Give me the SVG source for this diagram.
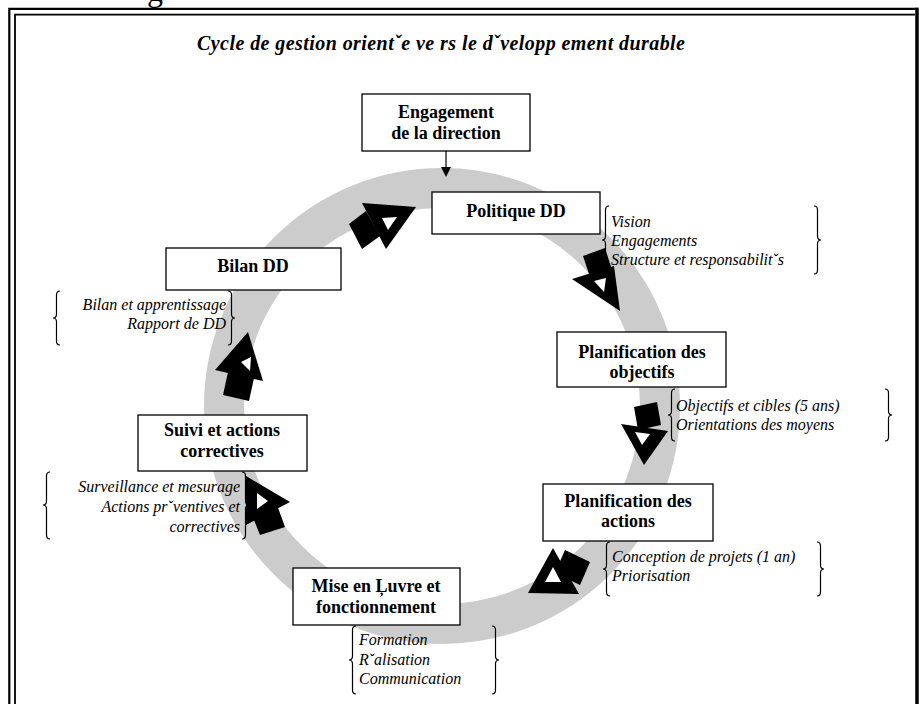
<svg xmlns="http://www.w3.org/2000/svg" width="919" height="704" viewBox="0 0 919 704">
<style>
text{font-family:"Liberation Serif","Times New Roman","DejaVu Serif",serif}
.box{fill:#fff;stroke:#000;stroke-width:1.3}
.nt{font-weight:bold;font-size:18px;text-anchor:middle;fill:#000}
.it{font-style:italic;font-size:16px;fill:#000}
.r{text-anchor:end}
.br{fill:none;stroke:#000;stroke-width:1.2}
.blk{fill:#000}
.wh{fill:#fff}
</style>
<rect width="919" height="704" fill="#fff"/>
<text x="147" y="1" font-size="32" fill="#000">g</text>
<g id="frame" fill="none" stroke="#000">
<polyline points="9.3,704 9.3,8.8 918,8.8" stroke-width="2.2"/>
<polyline points="15,704 15,14.6 915,14.6" stroke-width="1.8"/>
<line x1="917" y1="7.7" x2="917" y2="704" stroke-width="3.5"/>
</g>
<text id="title" x="197" y="50" font-weight="bold" font-style="italic" font-size="20" textLength="488" fill="#000">Cycle de gestion orientˇe ve rs le dˇvelopp ement durable</text>
<circle id="ring" cx="442" cy="406" r="218" fill="none" stroke="#cccccc" stroke-width="40"/>
<g id="connectors">
<line x1="446" y1="151" x2="446" y2="168" stroke="#000" stroke-width="1.2"/>
<polygon points="441,167 451,167 446,177" fill="#000"/>
<g id="a1"><polygon class="blk" points="349,224 366,211 380,236 362,249"/><polygon class="blk" points="362,203 416,207 386,249"/><polygon class="wh" points="382,218 397,217 388,230"/></g>
<g id="a2"><polygon class="blk" points="583,256 605,248 612,270 590,277"/><polygon class="blk" points="572,279 614,266 620,311"/><polygon class="wh" points="594,281 606,278 604,292"/></g>
<g id="a3"><polygon class="blk" points="634,407 657,402 661,425 638,430"/><polygon class="blk" points="621,424 668,431 644,465"/><polygon class="wh" points="635,432 650,434 642,445"/></g>
<g id="a4"><polygon class="blk" points="565,550 590,562 580,585 555,573"/><polygon class="blk" points="553,548 528,593 579,594"/><polygon class="wh" points="553,567 545,582 561,582"/></g>
<g id="a5"><polygon class="blk" points="252,515 277,505 285,527 260,535"/><polygon class="blk" points="246,476 246,525 290,502"/><polygon class="wh" points="257,493 257,509 268,501"/></g>
<g id="a6"><polygon class="blk" points="228,372 254,378 249,401 223,395"/><polygon class="blk" points="248,332 215,370 263,381"/><polygon class="wh" points="241,362 251,357 250,371"/></g>
</g>
<g id="n-engagement">
<rect class="box" x="362" y="94" width="168" height="57"/>
<text class="nt" x="446" y="118">Engagement</text>
<text class="nt" x="446" y="139">de la direction</text>
</g>
<g id="n-politique">
<rect class="box" x="432" y="192" width="168" height="42"/>
<text class="nt" x="516" y="217">Politique DD</text>
<path class="br" d="M609,206 Q605.5,206 605.5,210 L605.5,236 Q605.5,240 602,240 Q605.5,240 605.5,244 L605.5,270 Q605.5,274 609,274"/>
<path class="br" d="M814,206 Q817.5,206 817.5,210 L817.5,236 Q817.5,240 821,240 Q817.5,240 817.5,244 L817.5,270 Q817.5,274 814,274"/>
<text class="it" x="611" y="227">Vision</text>
<text class="it" x="611" y="246">Engagements</text>
<text class="it" x="611" y="265">Structure et responsabilitˇs</text>
</g>
<g id="n-objectifs">
<rect class="box" x="557" y="332" width="169" height="55"/>
<text class="nt" x="642" y="358">Planification des</text>
<text class="nt" x="642" y="378">objectifs</text>
<path class="br" d="M675,389 Q671.5,389 671.5,393 L671.5,411 Q671.5,415 668,415 Q671.5,415 671.5,419 L671.5,437 Q671.5,441 675,441"/>
<path class="br" d="M885,389 Q888.5,389 888.5,393 L888.5,411 Q888.5,415 892,415 Q888.5,415 888.5,419 L888.5,437 Q888.5,441 885,441"/>
<text class="it" x="676" y="411">Objectifs et cibles (5 ans)</text>
<text class="it" x="676" y="430">Orientations des moyens</text>
</g>
<g id="n-actions">
<rect class="box" x="543" y="484" width="170" height="57"/>
<text class="nt" x="628" y="507">Planification des</text>
<text class="nt" x="628" y="527">actions</text>
<path class="br" d="M610,542 Q606.5,542 606.5,546 L606.5,565 Q606.5,569 603,569 Q606.5,569 606.5,573 L606.5,592 Q606.5,596 610,596"/>
<path class="br" d="M817,542 Q820.5,542 820.5,546 L820.5,565 Q820.5,569 824,569 Q820.5,569 820.5,573 L820.5,592 Q820.5,596 817,596"/>
<text class="it" x="612" y="562">Conception de projets (1 an)</text>
<text class="it" x="612" y="581">Priorisation</text>
</g>
<g id="n-mise">
<rect class="box" x="293" y="568" width="167" height="57"/>
<text class="nt" x="376" y="592">Mise en Ļuvre et</text>
<text class="nt" x="376" y="613">fonctionnement</text>
<path class="br" d="M356,626 Q352.5,626 352.5,630 L352.5,656 Q352.5,660 349,660 Q352.5,660 352.5,664 L352.5,690 Q352.5,694 356,694"/>
<path class="br" d="M492,626 Q495.5,626 495.5,630 L495.5,656 Q495.5,660 499,660 Q495.5,660 495.5,664 L495.5,690 Q495.5,694 492,694"/>
<text class="it" x="359" y="645">Formation</text>
<text class="it" x="359" y="665">Rˇalisation</text>
<text class="it" x="359" y="684">Communication</text>
</g>
<g id="n-suivi">
<rect class="box" x="138" y="415" width="169" height="56"/>
<text class="nt" x="222" y="436">Suivi et actions</text>
<text class="nt" x="222" y="457">correctives</text>
<path class="br" d="M50,472 Q46.5,472 46.5,476 L46.5,501 Q46.5,505 43,505 Q46.5,505 46.5,509 L46.5,535 Q46.5,539 50,539"/>
<path class="br" d="M242,472 Q245.5,472 245.5,476 L245.5,501 Q245.5,505 249,505 Q245.5,505 245.5,509 L245.5,535 Q245.5,539 242,539"/>
<text class="it r" x="240" y="492">Surveillance et mesurage</text>
<text class="it r" x="240" y="512">Actions prˇventives et</text>
<text class="it r" x="240" y="532">correctives</text>
</g>
<g id="n-bilan">
<rect class="box" x="166" y="248" width="175" height="42"/>
<text class="nt" x="253" y="272">Bilan DD</text>
<path class="br" d="M60,291 Q56.5,291 56.5,295 L56.5,314 Q56.5,318 53,318 Q56.5,318 56.5,322 L56.5,341 Q56.5,345 60,345"/>
<path class="br" d="M228,291 Q231.5,291 231.5,295 L231.5,314 Q231.5,318 235,318 Q231.5,318 231.5,322 L231.5,341 Q231.5,345 228,345"/>
<text class="it r" x="226" y="310">Bilan et apprentissage</text>
<text class="it r" x="226" y="329">Rapport de DD</text>
</g>
</svg>
